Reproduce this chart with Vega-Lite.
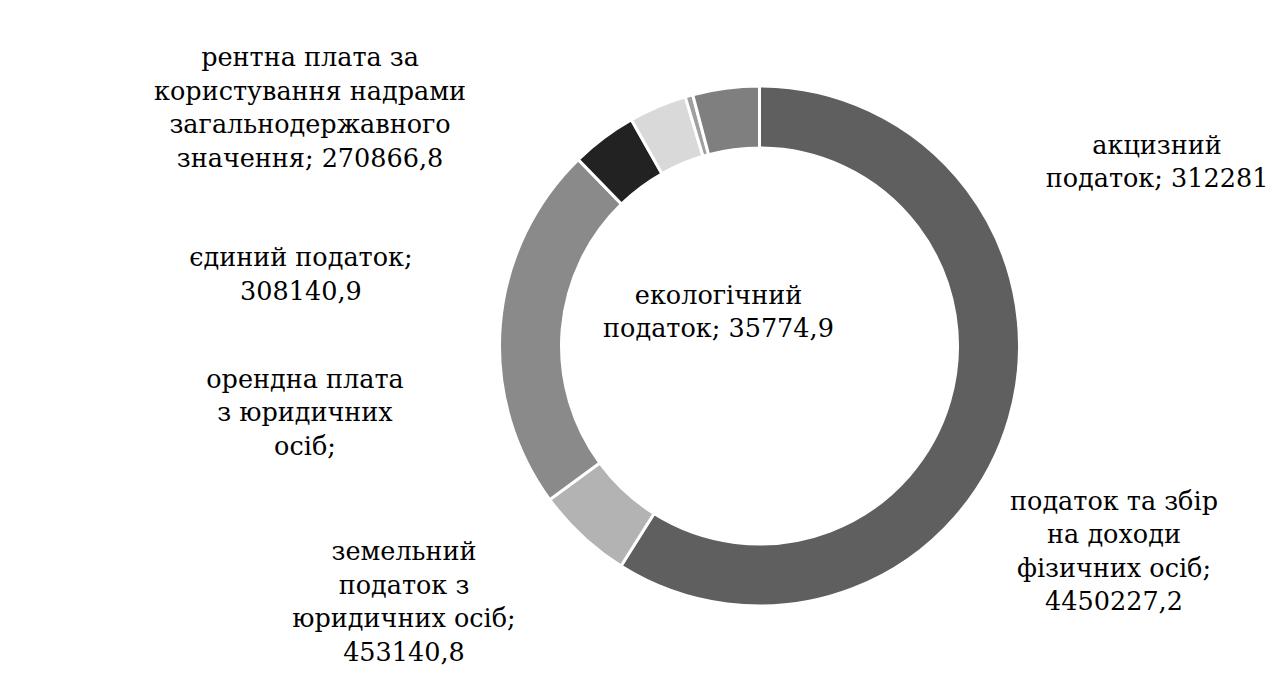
{
  "$schema": "https://vega.github.io/schema/vega-lite/v6.json",
  "autosize": "none",
  "width": 1027,
  "height": 658,
  "padding": {"left": 246, "top": 17, "right": 0, "bottom": 0},
  "background": "white",
  "config": {"view": {"stroke": null}, "text": {"font": "DejaVu Serif"}},
  "data": {
    "values": [
      {"category": "податок та збір на доходи фізичних осіб", "value": 4450227.2, "order": 1, "label": "податок та збір\nна доходи\nфізичних осіб;\n4450227,2"},
      {"category": "земельний податок з юридичних осіб", "value": 453140.8, "order": 2, "label": "земельний\nподаток з\nюридичних осіб;\n453140,8"},
      {"category": "орендна плата з юридичних осіб", "value": 1720000, "order": 3, "label": "орендна плата\nз юридичних\nосіб;"},
      {"category": "єдиний податок", "value": 308140.9, "order": 4, "label": "єдиний податок;\n308140,9"},
      {"category": "рентна плата за користування надрами загальнодержавного значення", "value": 270866.8, "order": 5, "label": "рентна плата за\nкористування надрами\nзагальнодержавного\nзначення; 270866,8"},
      {"category": "екологічний податок", "value": 35774.9, "order": 6, "label": "екологічний\nподаток; 35774,9"},
      {"category": "акцизний податок", "value": 312281, "order": 7, "label": "акцизний\nподаток; 312281"}
    ]
  },
  "encoding": {
    "theta": {"field": "value", "type": "quantitative", "stack": true},
    "order": {"field": "order", "type": "quantitative"}
  },
  "layer": [
    {
      "mark": {"type": "arc", "innerRadius": 198, "outerRadius": 260, "stroke": "white", "strokeWidth": 3},
      "encoding": {
        "color": {
          "field": "category", "type": "nominal", "legend": null,
          "scale": {
            "domain": ["податок та збір на доходи фізичних осіб", "земельний податок з юридичних осіб", "орендна плата з юридичних осіб", "єдиний податок", "рентна плата за користування надрами загальнодержавного значення", "екологічний податок", "акцизний податок"],
            "range": ["#5f5f5f", "#b3b3b3", "#8a8a8a", "#222222", "#d9d9d9", "#a0a0a0", "#7f7f7f"]
          }
        }
      }
    },
    {
      "mark": {"type": "text", "radius": 387.3, "thetaOffset": 0.1337, "align": "center", "baseline": "middle", "lineBreak": "\n", "font": "DejaVu Serif", "fontSize": 25.5, "lineHeight": 33.5, "color": "#000000"},
      "encoding": {"text": {"condition": {"test": "datum.order === 1", "field": "label", "type": "nominal"}, "value": ""}}
    },
    {
      "mark": {"type": "text", "radius": 410.9, "thetaOffset": 0.2953, "align": "center", "baseline": "middle", "lineBreak": "\n", "font": "DejaVu Serif", "fontSize": 25.5, "lineHeight": 33.5, "color": "#000000"},
      "encoding": {"text": {"condition": {"test": "datum.order === 2", "field": "label", "type": "nominal"}, "value": ""}}
    },
    {
      "mark": {"type": "text", "radius": 455.8, "thetaOffset": -0.1583, "align": "center", "baseline": "middle", "lineBreak": "\n", "font": "DejaVu Serif", "fontSize": 25.5, "lineHeight": 33.5, "color": "#000000"},
      "encoding": {"text": {"condition": {"test": "datum.order === 3", "field": "label", "type": "nominal"}, "value": ""}}
    },
    {
      "mark": {"type": "text", "radius": 466.9, "thetaOffset": -0.7381, "align": "center", "baseline": "middle", "lineBreak": "\n", "font": "DejaVu Serif", "fontSize": 25.5, "lineHeight": 33.5, "color": "#000000"},
      "encoding": {"text": {"condition": {"test": "datum.order === 4", "field": "label", "type": "nominal"}, "value": ""}}
    },
    {
      "mark": {"type": "text", "radius": 533.8, "thetaOffset": -0.5986, "align": "center", "baseline": "middle", "lineBreak": "\n", "font": "DejaVu Serif", "fontSize": 25.5, "lineHeight": 33.5, "color": "#000000"},
      "encoding": {"text": {"condition": {"test": "datum.order === 5", "field": "label", "type": "nominal"}, "value": ""}}
    },
    {
      "mark": {"type": "text", "radius": 64.7, "thetaOffset": -0.4121, "align": "center", "baseline": "middle", "lineBreak": "\n", "font": "DejaVu Serif", "fontSize": 25.5, "lineHeight": 33.5, "color": "#000000"},
      "encoding": {"text": {"condition": {"test": "datum.order === 6", "field": "label", "type": "nominal"}, "value": ""}}
    },
    {
      "mark": {"type": "text", "radius": 445.0, "thetaOffset": 1.2345, "align": "center", "baseline": "middle", "lineBreak": "\n", "font": "DejaVu Serif", "fontSize": 25.5, "lineHeight": 33.5, "color": "#000000"},
      "encoding": {"text": {"condition": {"test": "datum.order === 7", "field": "label", "type": "nominal"}, "value": ""}}
    }
  ]
}
